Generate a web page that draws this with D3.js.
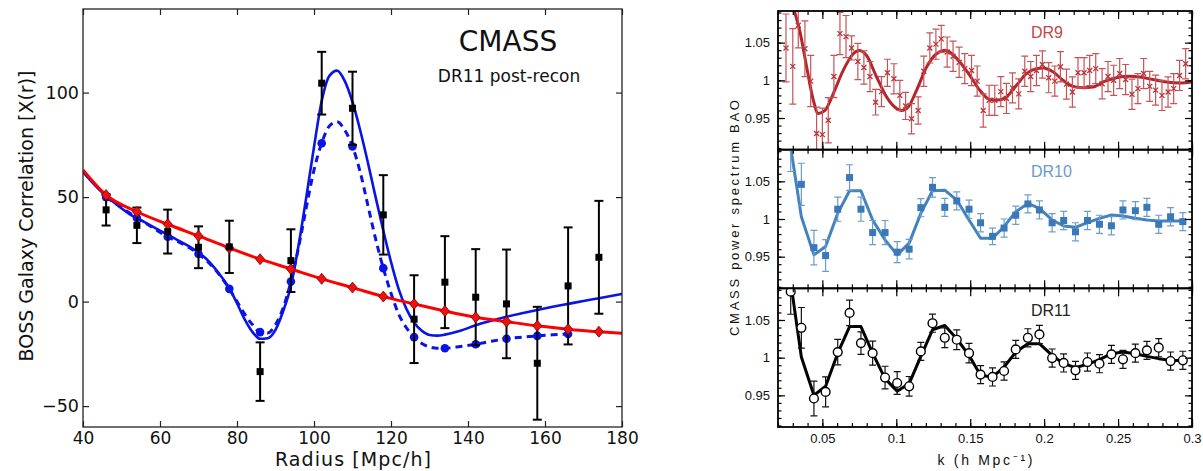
<!DOCTYPE html>
<html>
<head>
<meta charset="utf-8">
<title>CMASS BAO</title>
<script src="https://d3js.org/d3.v7.min.js"></script>
<style>
    body { margin: 0; background: #fff; }
    svg { display: block; }
    .left text { font-family: "DejaVu Sans", sans-serif; fill: #111; }
    .right text { font-family: "Liberation Sans", Arial, sans-serif; fill: #111; }
</style>
</head>
<body>
<svg id="chart" width="1203" height="471"></svg>
<script>
// ---------- left panel: correlation function ----------
const radiusBins = [46, 54, 62, 70, 78, 86, 94, 102, 110, 118, 126, 134, 142, 150, 158, 166, 174];
const xiMeasured = [43.9, 36.5, 33.5, 26, 26.2, -33.5, 19.6, 104.5, 92.5, 41.5, -8.4, 9.3, 2.1, -1.1, -29.5, 7.5, 21.2];
const xiError    = [7.5, 8.5, 10.5, 10, 12.5, 14, 15, 15, 17.5, 19, 21, 22, 23, 26, 27, 28, 27];

// no-BAO model (red)
const noBaoR  = [40, 46, 54, 62, 70, 78, 86, 94, 102, 110, 118, 126, 134, 142, 150, 158, 166, 174, 180];
const noBaoXi = [63, 51, 43, 37, 31.4, 25.7, 20.3, 15.6, 10.9, 6.7, 2.4, -1.1, -4.5, -7.5, -9.6, -11.6, -13.2, -14.4, -15.1];
const noBaoBinned = [51, 43, 37, 31.4, 25.7, 20.3, 15.6, 10.9, 6.7, 2.4, -1.1, -4.5, -7.5, -9.6, -11.6, -13.2, -14.4];

// BAO model (blue solid)
const baoR  = [40, 44, 48, 52, 56, 60, 64, 68, 70, 72, 74, 76, 78, 80, 82, 84, 86, 88, 90, 92, 94, 96, 98, 100, 102, 104, 106, 108, 110, 112, 114, 116, 118, 120, 122, 124, 126, 128, 130, 132, 134, 138, 142, 146, 150, 154, 158, 162, 166, 170, 174, 180];
const baoXi = [62, 54, 47.5, 42, 38, 34, 30, 26, 23.5, 20.5, 16.5, 11.8, 6.4, -0.8, -8.5, -14.5, -17.8, -17.5, -13.5, -4.5, 7.5, 27, 50, 74, 96, 108, 110.5, 105.5, 95.5, 82, 66.5, 50, 34, 19, 6, -3.5, -10, -14, -16, -16.3, -15.8, -14, -11.3, -9.2, -7.3, -5.6, -4, -2.5, -1.1, 0.3, 1.6, 3.7];

// binned BAO model (blue dashed)
const baoBinR  = [46, 50, 54, 58, 62, 66, 70, 74, 78, 80, 82, 84, 86, 88, 90, 92, 94, 96, 98, 100, 102, 104, 106, 108, 110, 112, 114, 116, 118, 120, 122, 124, 126, 128, 130, 132, 134, 138, 142, 146, 150, 154, 158, 162, 166];
const baoBinXi = [50, 45, 40, 35.5, 31, 27.5, 22.8, 16, 6.1, 0, -6, -11, -14.6, -15, -11, -3, 9.6, 26, 45, 63, 75.8, 84, 86, 82, 74.2, 62, 46, 30, 16, 4, -6, -12.5, -17, -20, -21.7, -22.3, -22.3, -21.5, -20.4, -19, -17.8, -17, -16.4, -15.9, -15.5];
const baoBinPoints = [50, 40, 31, 22.8, 6.1, -14.6, 9.6, 75.8, 74.2, 16, -17, -22.3, -20.4, -17.8, -16.4, -15.5];
const baoBinPointR = [46, 54, 62, 70, 78, 86, 94, 102, 110, 118, 126, 134, 142, 150, 158, 166];

const xiXTicks = [40, 60, 80, 100, 120, 140, 160, 180];
const xiYTicks = [-50, 0, 50, 100];

// ---------- right panels: power spectrum BAO ----------
const dr9K = [0.0254, 0.0300, 0.0337, 0.0382, 0.0421, 0.0461, 0.0500, 0.0540, 0.0578, 0.0619, 0.0660, 0.0698, 0.0740, 0.0781, 0.0822, 0.0860, 0.0900, 0.0940, 0.0984, 0.1024, 0.1063, 0.1103, 0.1148, 0.1186, 0.1227, 0.1268, 0.1304, 0.1344, 0.1384, 0.1425, 0.1463, 0.1509, 0.1547, 0.1588, 0.1628, 0.1666, 0.1707, 0.1745, 0.1786, 0.1828, 0.1869, 0.1909, 0.1948, 0.1988, 0.2031, 0.2072, 0.2110, 0.2151, 0.2191, 0.2229, 0.2270, 0.2308, 0.2349, 0.2392, 0.2432, 0.2470, 0.2511, 0.2551, 0.2594, 0.2634, 0.2673, 0.2714, 0.2754, 0.2797, 0.2838, 0.2876, 0.2916, 0.2957];
const dr9P = [1.043, 1.0185, 1.073, 1.042, 0.999, 0.9295, 0.928, 0.947, 1.005, 1.062, 1.058, 1.043, 1.025, 1.017, 1.005, 0.971, 0.985, 1.010, 1.002, 0.980, 0.966, 0.949, 0.960, 1.012, 1.043, 1.048, 1.055, 1.0375, 1.032, 1.024, 1.0155, 1.013, 0.999, 0.960, 0.9735, 0.9735, 0.985, 0.976, 0.990, 0.982, 1.012, 1.005, 1.013, 1.021, 1.0035, 0.999, 1.018, 0.995, 0.9845, 1.010, 1.010, 1.013, 1.0155, 0.9955, 1.005, 1.000, 1.009, 1.001, 0.9815, 0.989, 1.009, 0.992, 0.987, 0.980, 0.9845, 0.989, 1.0065, 1.022];
const dr9Err = [0.045, 0.05, 0.03, 0.037, 0.034, 0.035, 0.035, 0.03, 0.028, 0.028, 0.028, 0.016, 0.024, 0.022, 0.02, 0.017, 0.02, 0.018, 0.02, 0.02, 0.018, 0.02, 0.018, 0.02, 0.02, 0.02, 0.018, 0.02, 0.02, 0.02, 0.02, 0.02, 0.02, 0.022, 0.02, 0.02, 0.02, 0.02, 0.02, 0.02, 0.02, 0.02, 0.02, 0.018, 0.02, 0.02, 0.02, 0.02, 0.02, 0.02, 0.02, 0.02, 0.02, 0.02, 0.02, 0.02, 0.02, 0.02, 0.02, 0.02, 0.02, 0.02, 0.02, 0.02, 0.02, 0.02, 0.02, 0.02];
const dr9ModelK = [0.0298, 0.0310, 0.0349, 0.0394, 0.0439, 0.0472, 0.0518, 0.0574, 0.0641, 0.0709, 0.0749, 0.0799, 0.0867, 0.0934, 0.1002, 0.1036, 0.1081, 0.1137, 0.1205, 0.1272, 0.1335, 0.1362, 0.1430, 0.1497, 0.1565, 0.1632, 0.1678, 0.1745, 0.1813, 0.1880, 0.1948, 0.1993, 0.2061, 0.2128, 0.2196, 0.2263, 0.2331, 0.2399, 0.2489, 0.2578, 0.2646, 0.2736, 0.2826, 0.2916, 0.3000];
const dr9ModelP = [1.101, 1.0926, 1.064, 1.0176, 0.9735, 0.956, 0.960, 0.9824, 1.0132, 1.0353, 1.0397, 1.033, 1.0044, 0.978, 0.9626, 0.960, 0.9647, 0.9868, 1.0176, 1.0353, 1.0400, 1.0375, 1.0243, 1.0066, 0.9868, 0.9744, 0.9735, 0.978, 0.9934, 1.0088, 1.0155, 1.0163, 1.011, 1.000, 0.992, 0.9903, 0.9912, 0.9978, 1.0035, 1.0053, 1.0044, 1.001, 0.9978, 0.9965, 0.9978];

// DR10 and DR11 share the same k bins
const kBins = [0.0286, 0.0358, 0.0443, 0.0522, 0.0604, 0.0684, 0.0761, 0.0840, 0.0924, 0.1006, 0.1087, 0.1166, 0.1245, 0.1328, 0.1409, 0.1492, 0.1570, 0.1651, 0.1729, 0.1808, 0.1890, 0.1968, 0.2054, 0.2132, 0.2212, 0.2293, 0.2374, 0.2455, 0.2533, 0.2617, 0.2695, 0.2775, 0.2855, 0.2938];
const dr10P = [1.100, 1.046, 0.962, 0.9515, 1.013, 1.055, 1.013, 0.982, 0.982, 0.956, 0.960, 1.015, 1.042, 1.0155, 1.024, 1.013, 0.995, 0.977, 0.988, 1.005, 1.020, 1.012, 0.995, 0.998, 0.983, 0.998, 0.993, 0.991, 1.012, 1.011, 1.0155, 0.993, 1.003, 0.9965];
const dr10Err = [0.037, 0.028, 0.023, 0.021, 0.016, 0.017, 0.016, 0.016, 0.016, 0.014, 0.013, 0.012, 0.013, 0.012, 0.012, 0.012, 0.012, 0.011, 0.012, 0.012, 0.012, 0.012, 0.012, 0.012, 0.012, 0.012, 0.012, 0.012, 0.012, 0.012, 0.012, 0.012, 0.012, 0.012];
const dr10Model = [1.095, 1.003, 0.9524, 0.9634, 1.0075, 1.0374, 1.0374, 0.9987, 0.9723, 0.9524, 0.968, 1.0075, 1.0374, 1.0383, 1.0251, 0.9987, 0.9745, 0.9745, 0.9898, 1.0097, 1.0207, 1.0141, 0.9987, 0.9908, 0.989, 0.9951, 1.0009, 1.0053, 1.004, 1.0009, 0.9987, 0.9974, 0.9974, 0.9974];
const dr11P = [1.0876, 1.0396, 0.9458, 0.9546, 1.0074, 1.0594, 1.0193, 1.006, 0.9736, 0.9664, 0.962, 1.0083, 1.0457, 1.0264, 1.0238, 1.006, 0.9775, 0.9744, 0.9823, 1.011, 1.0264, 1.0308, 0.9995, 0.993, 0.9832, 0.9942, 0.992, 1.0044, 0.9978, 1.006, 1.0097, 1.0132, 0.9955, 0.9965];
const dr11Err = [0.03, 0.027, 0.023, 0.02, 0.017, 0.017, 0.015, 0.016, 0.015, 0.015, 0.013, 0.012, 0.012, 0.013, 0.013, 0.013, 0.012, 0.012, 0.012, 0.012, 0.012, 0.012, 0.012, 0.012, 0.012, 0.012, 0.012, 0.012, 0.012, 0.012, 0.012, 0.012, 0.012, 0.012];
const dr11Model = [1.10, 1.0008, 0.9502, 0.962, 1.006, 1.0413, 1.0413, 1.006, 0.9722, 0.9555, 0.9656, 1.0017, 1.037, 1.0427, 1.0251, 1.003, 0.9766, 0.9744, 0.9876, 1.0074, 1.0185, 1.0185, 1.003, 0.992, 0.9868, 0.9912, 0.9974, 1.0053, 1.0074, 1.0053, 1.0017, 0.9987, 0.9964, 0.9964];

const pkYTicks = [0.95, 1, 1.05];

const svg = d3.select("#chart");

// ================= LEFT PANEL =================
const L = { left: 83, right: 622, top: 9, bottom: 427 };
const xr = d3.scaleLinear().domain([40, 180]).range([L.left, L.right]);
const yx = d3.scaleLinear().domain([-60, 140]).range([L.bottom, L.top]);

const gl = svg.append("g").attr("class", "left");
gl.append("clipPath").attr("id", "clipL").append("rect")
    .attr("x", L.left).attr("y", L.top).attr("width", L.right - L.left).attr("height", L.bottom - L.top);

const plotL = gl.append("g").attr("clip-path", "url(#clipL)");

const lineL = d3.line().x(d => xr(d[0])).y(d => yx(d[1])).curve(d3.curveMonotoneX);

// blue dashed (binned BAO model)
plotL.append("path")
    .datum(baoBinR.map((r, i) => [r, baoBinXi[i]]))
    .attr("d", lineL).attr("fill", "none")
    .attr("stroke", "#0a14e6").attr("stroke-width", 3).attr("stroke-dasharray", "7,5");
// blue solid (BAO model)
plotL.append("path")
    .datum(baoR.map((r, i) => [r, baoXi[i]]))
    .attr("d", lineL).attr("fill", "none")
    .attr("stroke", "#0a14e6").attr("stroke-width", 2.6);
plotL.selectAll(".bcirc").data(baoBinPointR).enter().append("circle")
    .attr("cx", d => xr(d)).attr("cy", (d, i) => yx(baoBinPoints[i]))
    .attr("r", 4.3).attr("fill", "#0a14e6");

// error bars
const eb = plotL.selectAll(".eb").data(radiusBins).enter().append("g")
    .attr("stroke", "#000").attr("stroke-width", 2);
eb.append("line").attr("x1", d => xr(d)).attr("x2", d => xr(d))
    .attr("y1", (d, i) => yx(xiMeasured[i] + xiError[i])).attr("y2", (d, i) => yx(xiMeasured[i] - xiError[i]));
eb.append("line").attr("x1", d => xr(d) - 4.5).attr("x2", d => xr(d) + 4.5)
    .attr("y1", (d, i) => yx(xiMeasured[i] + xiError[i])).attr("y2", (d, i) => yx(xiMeasured[i] + xiError[i]));
eb.append("line").attr("x1", d => xr(d) - 4.5).attr("x2", d => xr(d) + 4.5)
    .attr("y1", (d, i) => yx(xiMeasured[i] - xiError[i])).attr("y2", (d, i) => yx(xiMeasured[i] - xiError[i]));

// red no-BAO model
plotL.append("path")
    .datum(noBaoR.map((r, i) => [r, noBaoXi[i]]))
    .attr("d", lineL).attr("fill", "none")
    .attr("stroke", "#ff0000").attr("stroke-width", 3);
plotL.selectAll(".dia").data(radiusBins).enter().append("path")
    .attr("d", "M0,-5.5L4.5,0L0,5.5L-4.5,0Z")
    .attr("transform", (d, i) => `translate(${xr(d)},${yx(noBaoBinned[i])})`)
    .attr("fill", "#f01010").attr("stroke", "#7a0000").attr("stroke-width", 0.8);

// measured squares
plotL.selectAll(".sq").data(radiusBins).enter().append("rect")
    .attr("x", d => xr(d) - 3.5).attr("y", (d, i) => yx(xiMeasured[i]) - 3.5)
    .attr("width", 7).attr("height", 7).attr("fill", "#000");

// axes
gl.append("g").attr("transform", `translate(0,${L.bottom})`)
    .call(d3.axisBottom(xr).tickValues(xiXTicks).tickSizeInner(-6).tickSizeOuter(0).tickPadding(5))
    .call(g => g.select(".domain").remove())
    .call(g => g.selectAll("text").attr("font-size", 17));
gl.append("g").attr("transform", `translate(0,${L.top})`)
    .call(d3.axisTop(xr).tickValues(xiXTicks).tickSizeInner(-6).tickSizeOuter(0).tickFormat(""))
    .call(g => g.select(".domain").remove());
gl.append("g").attr("transform", `translate(${L.left},0)`)
    .call(d3.axisLeft(yx).tickValues(xiYTicks).tickSizeInner(-6).tickSizeOuter(0).tickPadding(4))
    .call(g => g.select(".domain").remove())
    .call(g => g.selectAll("text").attr("font-size", 17.5));
gl.append("g").attr("transform", `translate(${L.right},0)`)
    .call(d3.axisRight(yx).tickValues(xiYTicks).tickSizeInner(-6).tickSizeOuter(0).tickFormat(""))
    .call(g => g.select(".domain").remove());
gl.selectAll(".tick line").attr("stroke", "#222").attr("stroke-width", 1.2);
gl.append("rect").attr("x", L.left).attr("y", L.top)
    .attr("width", L.right - L.left).attr("height", L.bottom - L.top)
    .attr("fill", "none").attr("stroke", "#222").attr("stroke-width", 1.3);

gl.append("text").attr("x", 508).attr("y", 51).attr("text-anchor", "middle")
    .attr("font-size", 28).text("CMASS");
gl.append("text").attr("x", 509).attr("y", 82).attr("text-anchor", "middle")
    .attr("font-size", 17).text("DR11 post-recon");
gl.append("text").attr("x", 353).attr("y", 466).attr("text-anchor", "middle")
    .attr("font-size", 19).attr("textLength", 156).attr("lengthAdjust", "spacing")
    .text("Radius [Mpc/h]");
gl.append("text").attr("transform", "translate(33,216) rotate(-90)").attr("text-anchor", "middle")
    .attr("font-size", 19).text("BOSS Galaxy Correlation [X(r)]");

// ================= RIGHT PANELS =================
const R = { left: 778, right: 1192, top: 11, bottom: 427 };
const kx = d3.scaleLinear().domain([0.02, 0.30]).range([R.left, R.right]);
const ph = (R.bottom - R.top) / 3;
const gr = svg.append("g").attr("class", "right");

const panels = [
    { label: "DR9", k: dr9K, p: dr9P, e: dr9Err, mk: dr9ModelK, mp: dr9ModelP, marker: "x",
      line: "#b3262c", err: "#c65358", mark: "#b8363c", text: "#c0484c", curve: d3.curveMonotoneX, ly: 38 },
    { label: "DR10", k: kBins, p: dr10P, e: dr10Err, mk: kBins, mp: dr10Model, marker: "sq",
      line: "#4583be", err: "#6a9dcc", mark: "#3a78b7", text: "#6b9bc9", curve: d3.curveLinear, ly: 177 },
    { label: "DR11", k: kBins, p: dr11P, e: dr11Err, mk: kBins, mp: dr11Model, marker: "o",
      line: "#000", err: "#111", mark: "#000", text: "#222", curve: d3.curveLinear, ly: 316 }
];

const minorK = kx.ticks(28);
const majorK = minorK.filter(k => Math.round(k * 100) % 5 === 0);
const fmt = d => String(+d.toFixed(2));

panels.forEach((pn, pi) => {
    const top = R.top + pi * ph, bot = top + ph;
    const py = d3.scaleLinear().domain([0.908, 1.092]).range([bot, top]);
    const g = gr.append("g");
    const cid = "clipR" + pi;
    g.append("clipPath").attr("id", cid).append("rect")
        .attr("x", R.left).attr("y", top).attr("width", R.right - R.left).attr("height", ph);
    const plot = g.append("g").attr("clip-path", `url(#${cid})`);

    // model line
    plot.append("path")
        .datum(pn.mk.map((k, i) => [k, pn.mp[i]]))
        .attr("d", d3.line().x(d => kx(d[0])).y(d => py(d[1])).curve(pn.curve))
        .attr("fill", "none").attr("stroke", pn.line).attr("stroke-width", 3)
        .attr("stroke-linejoin", "round");

    // error bars
    const e = plot.selectAll(".e").data(pn.k).enter().append("g")
        .attr("stroke", pn.err).attr("stroke-width", 1.2);
    e.append("line").attr("x1", d => kx(d)).attr("x2", d => kx(d))
        .attr("y1", (d, i) => py(pn.p[i] + pn.e[i])).attr("y2", (d, i) => py(pn.p[i] - pn.e[i]));
    [1, -1].forEach(s => {
        e.append("line").attr("x1", d => kx(d) - 3.5).attr("x2", d => kx(d) + 3.5)
            .attr("y1", (d, i) => py(pn.p[i] + s * pn.e[i])).attr("y2", (d, i) => py(pn.p[i] + s * pn.e[i]));
    });

    // markers
    const m = plot.selectAll(".m").data(pn.k).enter().append("g")
        .attr("transform", (d, i) => `translate(${kx(d)},${py(pn.p[i])})`);
    if (pn.marker === "x") {
        m.append("path").attr("d", "M-2.5,-2.5L2.5,2.5M-2.5,2.5L2.5,-2.5")
            .attr("stroke", pn.mark).attr("stroke-width", 1.3);
    } else if (pn.marker === "sq") {
        m.append("rect").attr("x", -3.5).attr("y", -3.5).attr("width", 7).attr("height", 7)
            .attr("fill", pn.mark);
    } else {
        m.append("circle").attr("r", 4.4).attr("fill", "#fff")
            .attr("stroke", pn.mark).attr("stroke-width", 1.4);
    }

    // ticks: x top/bottom, y left/right, all inward
    const xt = (axis, y, sizeMinor, sizeMajor, labels) => {
        g.append("g").attr("transform", `translate(0,${y})`)
            .call(axis(kx).tickValues(minorK).tickSizeInner(-sizeMinor).tickSizeOuter(0).tickFormat(""))
            .call(a => a.select(".domain").remove());
        const ga = g.append("g").attr("transform", `translate(0,${y})`)
            .call(axis(kx).tickValues(majorK).tickSizeInner(-sizeMajor).tickSizeOuter(0).tickPadding(7)
                .tickFormat(labels ? fmt : ""))
            .call(a => a.select(".domain").remove());
        ga.selectAll("text").attr("font-size", 13);
    };
    xt(d3.axisBottom, bot, 4, 8, pi === 2);
    xt(d3.axisTop, top, 4, 8, false);

    const minorY = py.ticks(18).filter(v => v > 0.908 && v < 1.092);
    [[d3.axisLeft, R.left, true], [d3.axisRight, R.right, false]].forEach(([axis, x, labels]) => {
        g.append("g").attr("transform", `translate(${x},0)`)
            .call(axis(py).tickValues(minorY).tickSizeInner(-3.5).tickSizeOuter(0).tickFormat(""))
            .call(a => a.select(".domain").remove());
        g.append("g").attr("transform", `translate(${x},0)`)
            .call(axis(py).tickValues(pkYTicks).tickSizeInner(-7).tickSizeOuter(0).tickPadding(8)
                .tickFormat(labels ? fmt : ""))
            .call(a => a.select(".domain").remove())
            .call(a => a.selectAll("text").attr("font-size", 13));
    });

    g.append("rect").attr("x", R.left).attr("y", top).attr("width", R.right - R.left).attr("height", ph)
        .attr("fill", "none").attr("stroke", "#000").attr("stroke-width", 1.8);

    g.append("text").attr("x", 1031).attr("y", pn.ly).attr("font-size", 16)
        .style("fill", pn.text).text(pn.label);
});
gr.selectAll(".tick line").attr("stroke", "#000").attr("stroke-width", 1.2);

gr.append("text").attr("transform", "translate(739,218) rotate(-90)").attr("text-anchor", "middle")
    .attr("font-size", 13).attr("textLength", 236).attr("lengthAdjust", "spacing")
    .text("CMASS  power spectrum BAO");
gr.append("text").attr("x", 985).attr("y", 465).attr("text-anchor", "middle")
    .attr("font-size", 14).attr("textLength", 95).attr("lengthAdjust", "spacing")
    .text("k (h Mpc\u207B\u00B9)");
</script>
</body>
</html>
